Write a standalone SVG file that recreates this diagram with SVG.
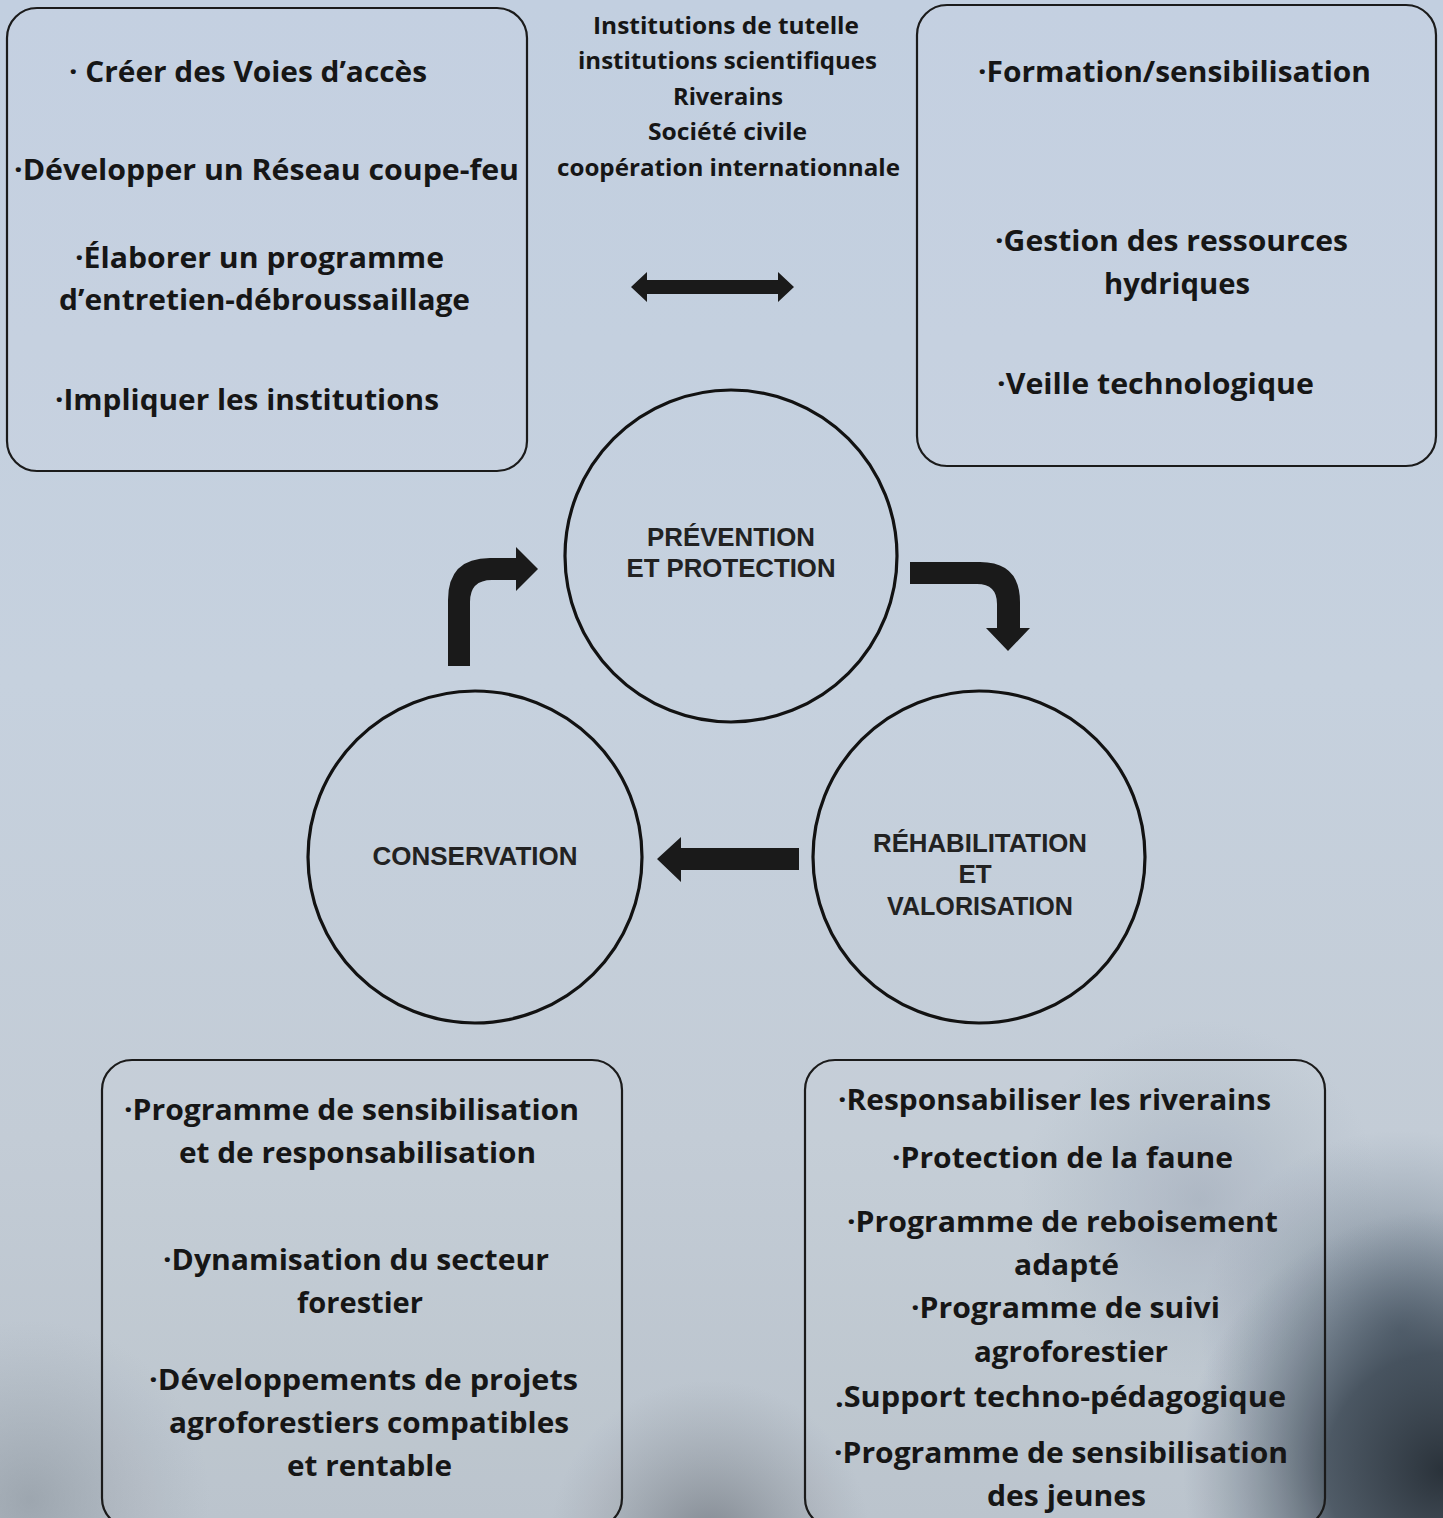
<svg xmlns="http://www.w3.org/2000/svg" width="1443" height="1518" viewBox="0 0 1443 1518">
  <defs>
    <linearGradient id="sky" x1="0" y1="0" x2="0" y2="1">
      <stop offset="0" stop-color="#c2cfe0"/>
      <stop offset="0.45" stop-color="#c6d1de"/>
      <stop offset="0.75" stop-color="#c3ccd6"/>
      <stop offset="1" stop-color="#b9c2cb"/>
    </linearGradient>
    <radialGradient id="smoke1" cx="1443" cy="1470" r="260" gradientUnits="userSpaceOnUse">
      <stop offset="0" stop-color="#2a323a" stop-opacity="1"/>
      <stop offset="0.45" stop-color="#3e4a56" stop-opacity="0.85"/>
      <stop offset="1" stop-color="#6a7a8a" stop-opacity="0"/>
    </radialGradient>
    <radialGradient id="smoke2" cx="1400" cy="1330" r="200" gradientUnits="userSpaceOnUse">
      <stop offset="0" stop-color="#4a5866" stop-opacity="0.8"/>
      <stop offset="1" stop-color="#7c8c9c" stop-opacity="0"/>
    </radialGradient>
    <radialGradient id="smoke3" cx="710" cy="1540" r="160" gradientUnits="userSpaceOnUse">
      <stop offset="0" stop-color="#6a7078" stop-opacity="0.7"/>
      <stop offset="1" stop-color="#8a9098" stop-opacity="0"/>
    </radialGradient>
    <radialGradient id="smoke4" cx="30" cy="1500" r="180" gradientUnits="userSpaceOnUse">
      <stop offset="0" stop-color="#8a939c" stop-opacity="0.6"/>
      <stop offset="1" stop-color="#9aa3ac" stop-opacity="0"/>
    </radialGradient>
    <radialGradient id="smoke5" cx="1200" cy="1200" r="180" gradientUnits="userSpaceOnUse">
      <stop offset="0" stop-color="#8f9cab" stop-opacity="0.45"/>
      <stop offset="1" stop-color="#9aa6b4" stop-opacity="0"/>
    </radialGradient>
    <style>
      .box { fill: #ffffff; fill-opacity: 0.04; stroke: #1b1b1b; stroke-width: 2.2; }
      .circ { fill: none; stroke: #121212; stroke-width: 3.2; }
      .t { font-family: "Open Sans", "Noto Sans", "DejaVu Sans", sans-serif; font-weight: 700; fill: #161616; }
      .big { font-size: 28px; }
      .mid { font-size: 24px; }
      .cl { font-family: "Liberation Sans", Arial, sans-serif; font-weight: 700; font-size: 26px; fill: #222222; text-anchor: middle; }
      .arrow { fill: #1a1a1a; }
    </style>
  </defs>

  <rect x="0" y="0" width="1443" height="1518" fill="url(#sky)"/>
  <rect x="0" y="0" width="1443" height="1518" fill="url(#smoke5)"/>
  <rect x="0" y="0" width="1443" height="1518" fill="url(#smoke2)"/>
  <rect x="0" y="0" width="1443" height="1518" fill="url(#smoke1)"/>
  <rect x="0" y="0" width="1443" height="1518" fill="url(#smoke3)"/>
  <rect x="0" y="0" width="1443" height="1518" fill="url(#smoke4)"/>

  <g id="box-top-left">
    <rect class="box" x="7" y="8" width="520" height="463" rx="30"/>
    <text class="t big" x="69" y="82" textLength="358" lengthAdjust="spacingAndGlyphs">· Créer des Voies d’accès</text>
    <text class="t big" x="14" y="180" textLength="505" lengthAdjust="spacingAndGlyphs">·Développer un Réseau coupe-feu</text>
    <text class="t big" x="75" y="268" textLength="369" lengthAdjust="spacingAndGlyphs">·Élaborer un programme</text>
    <text class="t big" x="59" y="310" textLength="411" lengthAdjust="spacingAndGlyphs">d’entretien-débroussaillage</text>
    <text class="t big" x="55" y="410" textLength="384" lengthAdjust="spacingAndGlyphs">·Impliquer les institutions</text>
  </g>

  <g id="actors">
    <text class="t mid" x="593" y="34" textLength="266" lengthAdjust="spacingAndGlyphs">Institutions de tutelle</text>
    <text class="t mid" x="578" y="69" textLength="299" lengthAdjust="spacingAndGlyphs">institutions scientifiques</text>
    <text class="t mid" x="673" y="105" textLength="110" lengthAdjust="spacingAndGlyphs">Riverains</text>
    <text class="t mid" x="648" y="140" textLength="159" lengthAdjust="spacingAndGlyphs">Société civile</text>
    <text class="t mid" x="557" y="176" textLength="343" lengthAdjust="spacingAndGlyphs">coopération internationnale</text>
  </g>

  <g id="box-top-right">
    <rect class="box" x="917" y="5" width="519" height="461" rx="30"/>
    <text class="t big" x="978" y="82" textLength="393" lengthAdjust="spacingAndGlyphs">·Formation/sensibilisation</text>
    <text class="t big" x="995" y="251" textLength="353" lengthAdjust="spacingAndGlyphs">·Gestion des ressources</text>
    <text class="t big" x="1104" y="294" textLength="146" lengthAdjust="spacingAndGlyphs">hydriques</text>
    <text class="t big" x="997" y="394" textLength="317" lengthAdjust="spacingAndGlyphs">·Veille technologique</text>
  </g>

  <g id="node-prevention">
    <ellipse class="circ" cx="731" cy="556" rx="166" ry="166"/>
    <text class="cl" x="731" y="546" textLength="168" lengthAdjust="spacingAndGlyphs">PRÉVENTION</text>
    <text class="cl" x="731" y="577" textLength="209" lengthAdjust="spacingAndGlyphs">ET PROTECTION</text>
  </g>

  <g id="node-conservation">
    <ellipse class="circ" cx="475" cy="857" rx="167" ry="166"/>
    <text class="cl" x="475" y="865" textLength="205" lengthAdjust="spacingAndGlyphs">CONSERVATION</text>
  </g>

  <g id="node-rehabilitation">
    <ellipse class="circ" cx="979" cy="857" rx="166" ry="166"/>
    <text class="cl" x="980" y="852" textLength="214" lengthAdjust="spacingAndGlyphs">RÉHABILITATION</text>
    <text class="cl" x="975" y="883">ET</text>
    <text class="cl" x="980" y="915" textLength="186" lengthAdjust="spacingAndGlyphs">VALORISATION</text>
  </g>

  <g id="box-bottom-left">
    <rect class="box" x="102" y="1060" width="520" height="468" rx="30"/>
    <text class="t big" x="124" y="1120" textLength="455" lengthAdjust="spacingAndGlyphs">·Programme de sensibilisation</text>
    <text class="t big" x="179" y="1163" textLength="357" lengthAdjust="spacingAndGlyphs">et de responsabilisation</text>
    <text class="t big" x="163" y="1270" textLength="386" lengthAdjust="spacingAndGlyphs">·Dynamisation du secteur</text>
    <text class="t big" x="297" y="1313" textLength="126" lengthAdjust="spacingAndGlyphs">forestier</text>
    <text class="t big" x="149" y="1390" textLength="429" lengthAdjust="spacingAndGlyphs">·Développements de projets</text>
    <text class="t big" x="169" y="1433" textLength="400" lengthAdjust="spacingAndGlyphs">agroforestiers compatibles</text>
    <text class="t big" x="287" y="1476" textLength="165" lengthAdjust="spacingAndGlyphs">et rentable</text>
  </g>

  <g id="box-bottom-right">
    <rect class="box" x="805" y="1060" width="520" height="468" rx="30"/>
    <text class="t big" x="838" y="1110" textLength="433" lengthAdjust="spacingAndGlyphs">·Responsabiliser les riverains</text>
    <text class="t big" x="892" y="1168" textLength="341" lengthAdjust="spacingAndGlyphs">·Protection de la faune</text>
    <text class="t big" x="847" y="1232" textLength="431" lengthAdjust="spacingAndGlyphs">·Programme de reboisement</text>
    <text class="t big" x="1014" y="1275" textLength="105" lengthAdjust="spacingAndGlyphs">adapté</text>
    <text class="t big" x="911" y="1318" textLength="309" lengthAdjust="spacingAndGlyphs">·Programme de suivi</text>
    <text class="t big" x="974" y="1362" textLength="194" lengthAdjust="spacingAndGlyphs">agroforestier</text>
    <text class="t big" x="835" y="1407" textLength="451" lengthAdjust="spacingAndGlyphs">.Support techno-pédagogique</text>
    <text class="t big" x="834" y="1463" textLength="454" lengthAdjust="spacingAndGlyphs">·Programme de sensibilisation</text>
    <text class="t big" x="987" y="1506" textLength="159" lengthAdjust="spacingAndGlyphs">des jeunes</text>
  </g>

  <g id="connectors">
    <path class="arrow" d="M631,287 L647,272 L647,280 L778,280 L778,272 L794,287 L778,302 L778,294 L647,294 L647,302 Z"/>
    <path class="arrow" d="M448,666 L448,600 Q448,558 490,558 L516,558 L516,547 L538,569 L516,591 L516,580 L492,580 Q470,580 470,602 L470,666 Z"/>
    <path class="arrow" d="M910,562 L980,562 Q1020,562 1020,602 L1020,628 L1030,628 L1008,651 L986,628 L997,628 L997,604 Q997,584 977,584 L910,584 Z"/>
    <path class="arrow" d="M657,859 L681,837 L681,848 L799,848 L799,870 L681,870 L681,882 Z"/>
  </g>
</svg>
